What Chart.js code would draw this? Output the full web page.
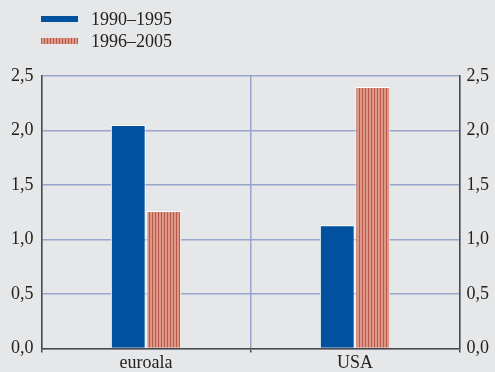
<!DOCTYPE html>
<html>
<head>
<meta charset="utf-8">
<script src="https://cdn.jsdelivr.net/npm/chart.js@4"></script>
<style>
  html, body { margin: 0; padding: 0; background: #e6e7e8; }
  #wrap { width: 495px; height: 372px; }
</style>
</head>
<body>
<div id="wrap"><canvas id="myChart" width="495" height="372"></canvas></div>
<script>
// data
const categories = ['euroala', 'USA'];
const seriesLabels = ['1990\u20131995', '1996\u20132005'];
const early = [2.05, 1.13];
const late = [1.26, 2.40];
const yTicks = [0, 0.5, 1, 1.5, 2, 2.5];

const blue = '#0052a0';
const gridBlue = '#9aa5cc';
const axisDark = '#4a4a4a';
const font = 'Liberation Serif';

// vertical stripes for the second series
function stripes() {
  const c = document.createElement('canvas');
  c.width = 3; c.height = 3;
  const g = c.getContext('2d');
  g.fillStyle = '#dc9a86';
  g.fillRect(0, 0, 3, 3);
  g.fillStyle = '#b9574d';
  g.fillRect(2, 0, 1, 3);
  return g.createPattern(c, 'repeat');
}
const stripeFill = stripes();

// legend in the top left corner, one row per series
const cornerLegend = {
  id: 'cornerLegend',
  afterDraw(chart) {
    const ctx = chart.ctx;
    ctx.save();
    ctx.font = '18px "' + font + '"';
    ctx.textBaseline = 'middle';
    chart.data.datasets.forEach((ds, i) => {
      const y = 19 + i * 22;
      ctx.fillStyle = ds.backgroundColor;
      ctx.fillRect(41, y - 3, 37, 6);
      ctx.fillStyle = '#222';
      ctx.fillText(ds.label, 91, y + 1);
    });
    ctx.restore();
  }
};

const fmt = v => v.toFixed(1).replace('.', ',');

new Chart(document.getElementById('myChart'), {
  type: 'bar',
  data: {
    labels: categories,
    datasets: [
      { label: seriesLabels[0], data: early, backgroundColor: blue, borderColor: '#ffffff', borderWidth: 1 },
      { label: seriesLabels[1], data: late, backgroundColor: stripeFill, borderColor: '#ffffff', borderWidth: 1 }
    ]
  },
  options: {
    responsive: false,
    animation: false,
    categoryPercentage: 0.34,
    barPercentage: 0.98,
    layout: { padding: { top: 76, left: 3, right: -1, bottom: -2 } },
    plugins: { legend: { display: false }, tooltip: { enabled: false } },
    scales: {
      x: {
        grid: { offset: true, color: gridBlue, lineWidth: 1.5, tickColor: axisDark, tickLength: 4 },
        border: { color: axisDark, width: 1.5 },
        ticks: { color: '#222', font: { family: font, size: 18 }, padding: 0 }
      },
      y: {
        min: 0, max: 2.5,
        afterBuildTicks: axis => { axis.ticks = yTicks.map(v => ({ value: v })); },
        grid: { color: gridBlue, lineWidth: 1.5, drawTicks: false },
        border: { color: axisDark, width: 1.5 },
        ticks: { color: '#222', font: { family: font, size: 18 }, padding: 8, callback: fmt }
      },
      y2: {
        position: 'right',
        min: 0, max: 2.5,
        afterBuildTicks: axis => { axis.ticks = yTicks.map(v => ({ value: v })); },
        grid: { display: false, drawTicks: false },
        border: { color: axisDark, width: 1.5 },
        ticks: { color: '#222', font: { family: font, size: 18 }, padding: 7, callback: fmt }
      }
    }
  },
  plugins: [cornerLegend]
});
</script>
</body>
</html>
